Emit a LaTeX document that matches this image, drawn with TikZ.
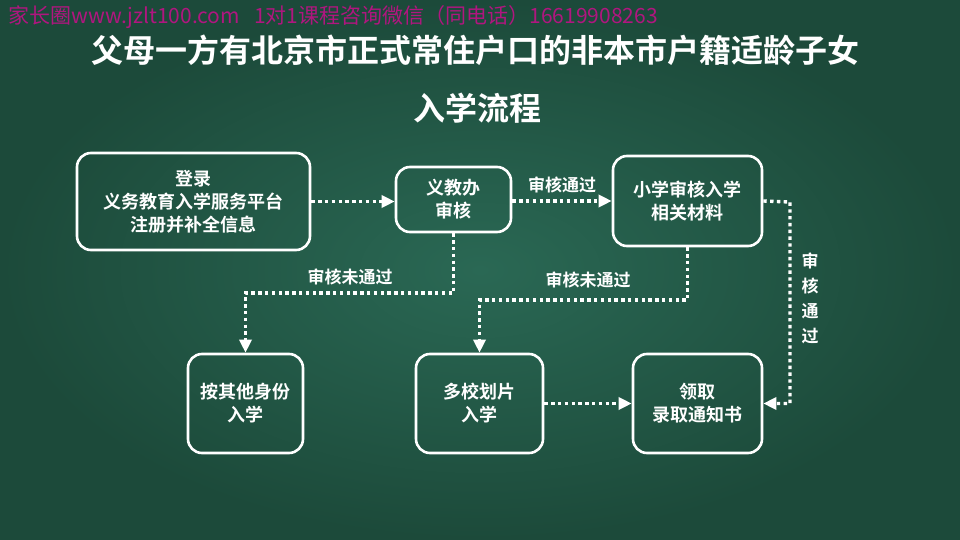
\documentclass[tikz,border=0pt]{standalone}
\usepackage{fontspec}
\setmainfont{Noto Sans CJK SC Bold}
\newfontfamily\markfont{Noto Sans CJK SC}
\usetikzlibrary{arrows.meta,positioning}

\definecolor{boardlight}{RGB}{42,104,84}
\definecolor{boarddark}{RGB}{28,74,58}
\definecolor{markpink}{RGB}{176,22,127}

\tikzset{
    stepbox/.style={draw=white, line width=2.6pt, rounded corners=14pt,
        text=white, align=center, font=\fontsize{18}{23}\selectfont},
    flow/.style={draw=white, line width=3.4pt, dash pattern=on 3.4pt off 3.4pt,
        -{Triangle[length=13pt,width=12pt,fill=white]}},
    lbl/.style={text=white, font=\fontsize{17}{21}\selectfont}
}

\begin{document}
\begin{tikzpicture}[x=1pt,y=-1pt]
            % Draw the chalkboard
            \useasboundingbox (0,0) rectangle (960,540);
            \shade[inner color=boardlight, outer color=boarddark] (0,0) rectangle (960,540);

            % Watermark and title
            \node[anchor=west, text=markpink, font=\markfont\fontsize{21}{23}\selectfont] (mark) at (5,17)
                {家长圈www.jzlt100.com\ \ \ 1对1课程咨询微信（同电话）16619908263};
            \node[text=white, font=\fontsize{32}{38}\selectfont] (title) at (475,50)
                {父母一方有北京市正式常住户口的非本市户籍适龄子女};
            \node[text=white, font=\fontsize{32}{38}\selectfont] (subtitle) at (477,108) {入学流程};

            % Draw the boxes
            \node[stepbox, minimum width=233, minimum height=97] (login) at (193.5,201.5)
                {登录\\义务教育入学服务平台\\注册并补全信息};
            \node[stepbox, minimum width=115, minimum height=65] (yjb) at (453.5,199.5) {义教办\\审核};
            \node[stepbox, minimum width=149, minimum height=90] (xx) at (687.5,201) {小学审核入学\\相关材料};
            \node[stepbox, minimum width=115, minimum height=99] (other) at (245.5,403.5) {按其他身份\\入学};
            \node[stepbox, minimum width=127, minimum height=99] (dxhp) at (479.5,403.5) {多校划片\\入学};
            \node[stepbox, minimum width=129, minimum height=99] (lq) at (697.5,403.5) {领取\\录取通知书};

            % Bends of the connectors
            \coordinate (k1) at (453.5,293);
            \coordinate (k2) at (687.5,300);
            \coordinate (k3) at (790,202);

            % Draw the connectors
            \draw[flow] (login.east) -- (login.east -| yjb.west);
            \draw[flow] (yjb.east |- xx.west) -- (xx.west)
                node[lbl, midway, above=3pt] (ok1) {审核通过};
            \draw[flow] (yjb.south) -- (k1) -| (other.north);
            \draw[flow] (xx.south) -- (k2) -| (dxhp.north);
            \draw[flow] (xx.east) -- (k3) |- (lq.east);
            \draw[flow] (dxhp.east) -- (lq.west);

            % Labels of the connectors
            \node[lbl] (no1) at (350,277) {审核未通过};
            \node[lbl] (no2) at (588,280) {审核未通过};
            \node[lbl, align=center, font=\fontsize{17}{25}\selectfont] (ok2) at (810,298) {审\\核\\通\\过};
        \end{tikzpicture}
\end{document}
